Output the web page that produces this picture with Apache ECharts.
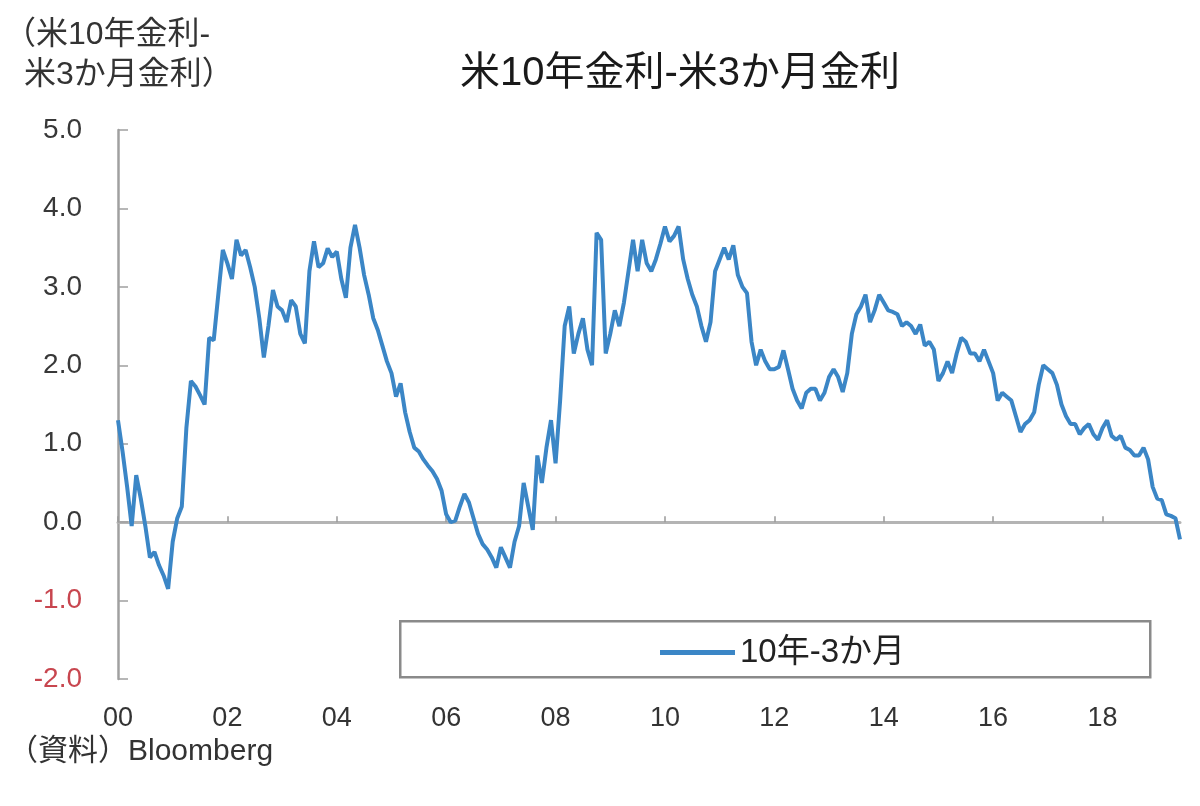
<!DOCTYPE html>
<html>
<head>
<meta charset="utf-8">
<script src="https://cdn.jsdelivr.net/npm/echarts@6/dist/echarts.min.js"></script>
<style>html,body{margin:0;padding:0;background:#fff;}#c{width:1200px;height:806px;}</style>
</head>
<body>
<div id="c"></div>
<script>
// Monthly spread values (10y - 3m), Jan 2000 .. Jun 2019
const startYear = 2000;
const v2000 = [1.30, 0.90, 0.45, -0.05, 0.60, 0.30, -0.05, -0.45, -0.38, -0.55, -0.68, -0.85];
const v2001 = [-0.25, 0.05, 0.20, 1.20, 1.80, 1.73, 1.62, 1.50, 2.35, 2.32, 2.90, 3.47];
const v2002 = [3.30, 3.10, 3.60, 3.40, 3.47, 3.25, 3.00, 2.60, 2.10, 2.50, 2.96, 2.75];
const v2003 = [2.70, 2.55, 2.83, 2.75, 2.40, 2.28, 3.20, 3.58, 3.25, 3.30, 3.49, 3.38];
const v2004 = [3.45, 3.10, 2.86, 3.50, 3.79, 3.50, 3.15, 2.90, 2.60, 2.45, 2.25, 2.05];
const v2005 = [1.90, 1.60, 1.77, 1.40, 1.15, 0.95, 0.90, 0.80, 0.72, 0.65, 0.55, 0.40];
const v2006 = [0.10, 0.00, 0.02, 0.20, 0.36, 0.25, 0.05, -0.15, -0.28, -0.35, -0.45, -0.58];
const v2007 = [-0.32, -0.45, -0.58, -0.25, -0.05, 0.50, 0.20, -0.10, 0.85, 0.50, 0.95, 1.30];
const v2008 = [0.75, 1.55, 2.50, 2.75, 2.15, 2.40, 2.60, 2.20, 2.00, 3.69, 3.60, 2.15];
const v2009 = [2.40, 2.70, 2.50, 2.80, 3.20, 3.60, 3.20, 3.60, 3.30, 3.20, 3.35, 3.55];
const v2010 = [3.77, 3.58, 3.65, 3.77, 3.35, 3.10, 2.90, 2.75, 2.50, 2.30, 2.55, 3.20];
const v2011 = [3.35, 3.50, 3.35, 3.53, 3.15, 3.00, 2.92, 2.30, 2.00, 2.20, 2.05, 1.95];
const v2012 = [1.95, 1.98, 2.19, 1.95, 1.70, 1.55, 1.45, 1.65, 1.70, 1.70, 1.55, 1.65];
const v2013 = [1.85, 1.95, 1.85, 1.66, 1.90, 2.40, 2.65, 2.75, 2.90, 2.55, 2.70, 2.90];
const v2014 = [2.80, 2.70, 2.68, 2.65, 2.50, 2.55, 2.50, 2.40, 2.52, 2.25, 2.30, 2.20];
const v2015 = [1.80, 1.90, 2.05, 1.90, 2.15, 2.35, 2.30, 2.15, 2.15, 2.05, 2.20, 2.05];
const v2016 = [1.90, 1.55, 1.65, 1.60, 1.55, 1.35, 1.15, 1.25, 1.30, 1.40, 1.75, 2.00];
const v2017 = [1.95, 1.90, 1.75, 1.50, 1.35, 1.25, 1.25, 1.12, 1.20, 1.25, 1.12, 1.05];
const v2018 = [1.20, 1.30, 1.10, 1.05, 1.10, 0.95, 0.92, 0.85, 0.85, 0.95, 0.80, 0.45];
const v2019 = [0.30, 0.28, 0.10, 0.08, 0.05, -0.22];

const seriesName = '10年-3か月';
const titleText = '米10年金利-米3か月金利';
const yAxisNameLine1 = '（米10年金利-';
const yAxisNameLine2 = '米3か月金利）';
const sourceText = '（資料）Bloomberg';

const values = [].concat(v2000, v2001, v2002, v2003, v2004, v2005, v2006, v2007, v2008, v2009,
  v2010, v2011, v2012, v2013, v2014, v2015, v2016, v2017, v2018, v2019);
const months = values.map((_, i) => {
  const y = startYear + Math.floor(i / 12);
  const m = (i % 12) + 1;
  return y + '-' + (m < 10 ? '0' + m : m);
});
const everyTwoYears = (i) => i % 24 === 0;

const FONT = "'Liberation Sans', 'Noto Sans CJK JP', sans-serif";
const chart = echarts.init(document.getElementById('c'));
chart.setOption({
  backgroundColor: '#ffffff',
  animation: false,
  title: {
    text: titleText,
    left: 455,
    top: 49,
    textStyle: { fontFamily: FONT, fontSize: 40, fontWeight: 'normal', color: '#1a1a1a' }
  },
  grid: { left: 118, right: 20, top: 130, bottom: 127, containLabel: false, outerBoundsMode: 'none' },
  legend: {
    left: 655,
    top: 631,
    itemWidth: 75,
    itemHeight: 5,
    itemGap: 8,
    data: [{ name: seriesName, icon: 'rect' }],
    textStyle: { fontFamily: FONT, fontSize: 33, color: '#222' }
  },
  xAxis: [
    {
      type: 'category',
      data: months,
      boundaryGap: false,
      position: 'bottom',
      axisLine: { show: false, onZero: false },
      axisTick: { show: false },
      axisLabel: {
        interval: everyTwoYears,
        margin: 26,
        formatter: (v) => v.slice(2, 4),
        fontFamily: FONT, fontSize: 27, color: '#333'
      },
      splitLine: { show: false }
    },
    {
      type: 'category',
      data: months,
      boundaryGap: false,
      position: 'top',
      axisLine: { show: true, onZero: true, lineStyle: { color: '#b4b4b4', width: 3 } },
      axisTick: {
        show: true, inside: false, length: 6,
        interval: everyTwoYears,
        lineStyle: { color: '#999', width: 1.5 }
      },
      axisLabel: { show: false },
      splitLine: { show: false }
    }
  ],
  yAxis: {
    type: 'value',
    min: -2, max: 5, interval: 1,
    axisLine: { show: true, onZero: false, lineStyle: { color: '#a0a0a0', width: 2.5 } },
    axisTick: { show: true, inside: true, length: 10, lineStyle: { color: '#a0a0a0', width: 1.5 } },
    axisLabel: {
      margin: 36,
      formatter: (v) => v.toFixed(1),
      fontFamily: FONT, fontSize: 28,
      color: (v) => (Number(v) < 0 ? '#c8464f' : '#383838')
    },
    splitLine: { show: false }
  },
  graphic: [
    {
      type: 'rect', left: 399, top: 620, z: 0,
      shape: { width: 750, height: 56 },
      style: { fill: '#fff', stroke: '#8a8a8a', lineWidth: 2.5 }
    },
    {
      type: 'text', left: 4, top: 19,
      style: { text: yAxisNameLine1, fontFamily: FONT, fontSize: 32, fill: '#333' }
    },
    {
      type: 'text', left: 24, top: 59,
      style: { text: yAxisNameLine2, fontFamily: FONT, fontSize: 32, fill: '#333' }
    },
    {
      type: 'text', left: 8, top: 737,
      style: { text: sourceText, fontFamily: FONT, fontSize: 30, fill: '#333' }
    }
  ],
  series: [{
    name: seriesName,
    type: 'line',
    xAxisIndex: 0,
    data: values,
    showSymbol: false,
    symbol: 'none',
    lineStyle: { color: '#3b86c6', width: 4 },
    itemStyle: { color: '#3b86c6' },
    z: 3
  }]
});
</script>
</body>
</html>
